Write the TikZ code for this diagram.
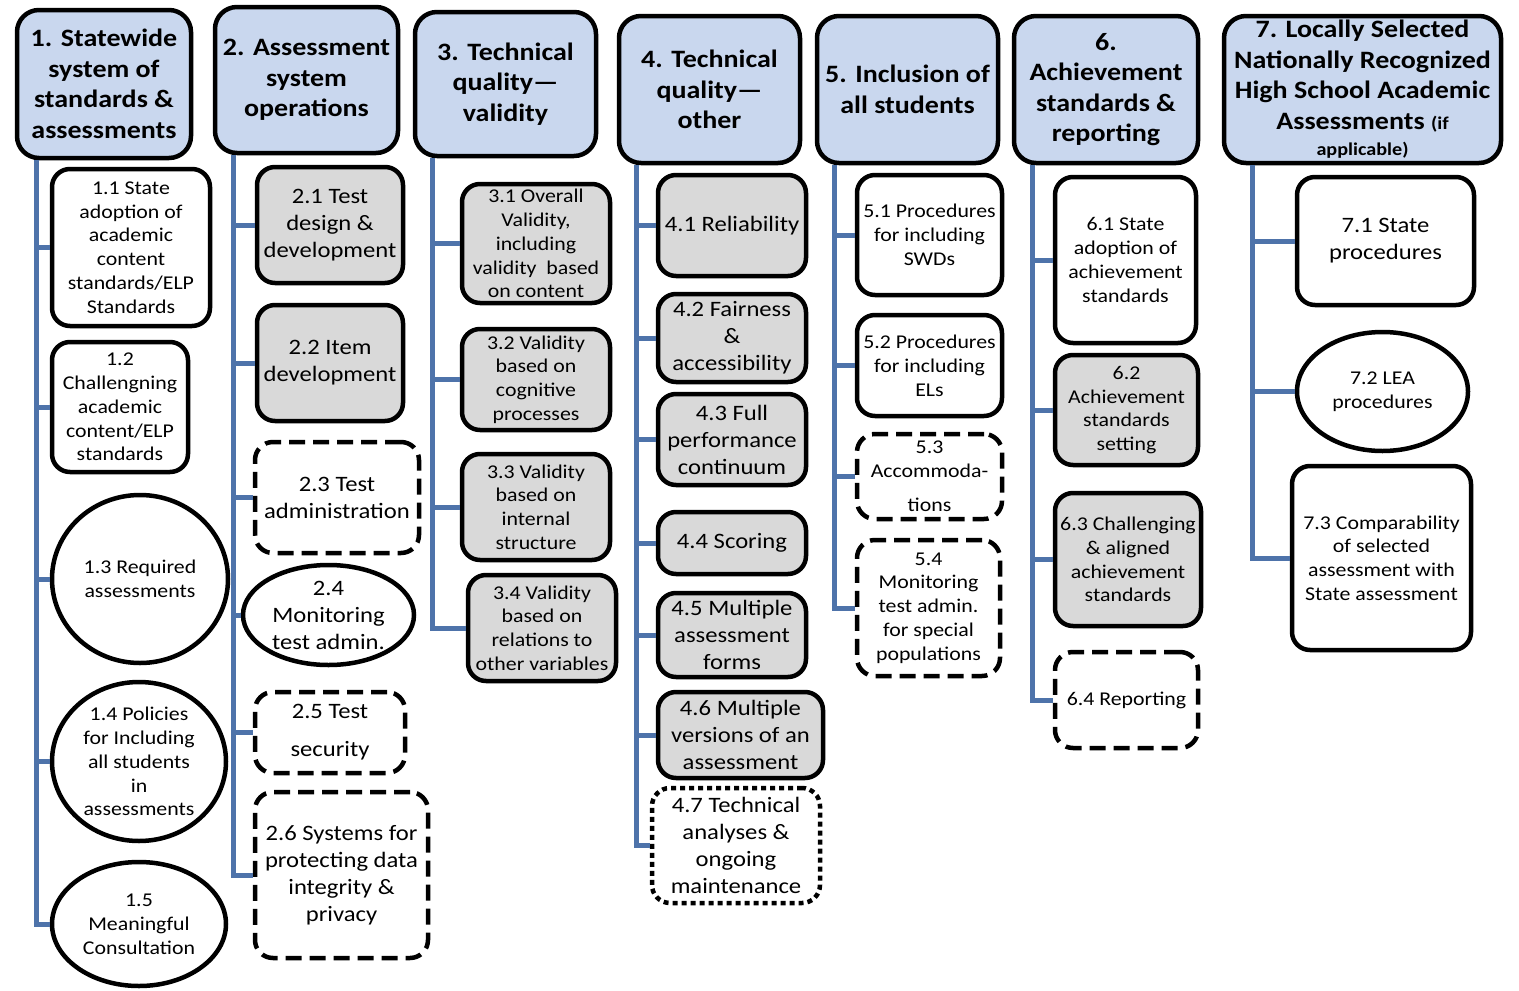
\documentclass[tikz,border=0pt]{standalone}
\usepackage{fontspec}
\setmainfont{Carlito}[FakeStretch=1.12]
\usepackage{tikz}
\usetikzlibrary{shapes.geometric,positioning}

\definecolor{headblue}{HTML}{C9D7EE}
\definecolor{boxgray}{HTML}{D9D9D9}
\definecolor{trunkblue}{HTML}{4E73AA}

\tikzset{
  head/.style={rectangle, draw, line width=4.5pt, fill=headblue, rounded corners=22pt, align=center, inner sep=0pt, font=\fontsize{25}{30.5}\selectfont\bfseries},
  leaf/.style={rectangle, draw, line width=4.5pt, fill=white, rounded corners=18pt, align=center, inner sep=0pt, font=\fontsize{19.5}{23.8}\selectfont},
  shaded/.style={leaf, fill=boxgray},
  dashbox/.style={leaf, dash pattern=on 16pt off 8pt},
  dotbox/.style={leaf, dash pattern=on 5pt off 4pt},
  oval/.style={ellipse, draw, line width=4.5pt, fill=white, align=center, inner sep=0pt, font=\fontsize{19.5}{23.8}\selectfont},
  big/.style={font=\fontsize{22}{27}\selectfont},
  trunk/.style={line width=5pt, trunkblue}
}

\begin{document}
\begin{tikzpicture}[x=1pt, y=-1pt]
    \useasboundingbox (0,0) rectangle (1519,991);

    % Column headers
    \node (h1) [head, minimum width=174, minimum height=148] at (104,84) {1. Statewide\\system of\\standards \&\\assessments};
    \node (h2) [head, minimum width=183, minimum height=146] at (306.5,80) {2. Assessment\\system\\operations};
    \node (h3) [head, minimum width=181, minimum height=144] at (505.5,84) {3. Technical\\quality---\\validity};
    \node (h4) [head, minimum width=181, minimum height=147] at (709.5,89.5) {4. Technical\\quality---\\other};
    \node (h5) [head, minimum width=181, minimum height=147] at (907.5,89.5) {5. Inclusion of\\all students};
    \node (h6) [head, minimum width=184, minimum height=147] at (1106,89.5) {6.\\Achievement\\standards \&\\reporting};
    \node (h7) [head, minimum width=277, minimum height=147] at (1362.5,89.5) {7. Locally Selected\\Nationally Recognized\\High School Academic\\Assessments {\fontsize{18}{20}\selectfont (if}\\[-4pt]{\fontsize{18}{20}\selectfont applicable)}};

    % Column 1
    \node (c11) [leaf, minimum width=158, minimum height=157] at (131,247.5) {1.1 State\\adoption of\\academic\\content\\standards/ELP\\Standards};
    \node (c12) [leaf, minimum width=136, minimum height=130] at (120,407) {1.2\\Challengning\\academic\\content/ELP\\standards};
    \node (c13) [oval, minimum width=176, minimum height=168] at (140,579) {1.3 Required\\assessments};
    \node (c14) [oval, minimum width=174, minimum height=159] at (139,761.5) {1.4 Policies\\for Including\\all students\\in\\assessments};
    \node (c15) [oval, minimum width=174, minimum height=124] at (139,924) {1.5\\Meaningful\\Consultation};

    % Column 2
    \node (c21) [shaded, big, minimum width=146, minimum height=116] at (330,225) {2.1 Test\\design \&\\development};
    \node (c22) [shaded, big, minimum width=146, minimum height=116] at (330,363) {2.2 Item\\development};
    \node (c23) [dashbox, big, minimum width=164, minimum height=111] at (337,497.5) {2.3 Test\\administration};
    \node (c24) [oval, big, minimum width=171, minimum height=100] at (328.5,615) {2.4\\Monitoring\\test admin.};
    \node (c25) [dashbox, big, minimum width=150, minimum height=81] at (330,732.5) {2.5 Test\\[11pt]security};
    \node (c26) [dashbox, big, minimum width=173, minimum height=166] at (341.5,875) {2.6 Systems for\\protecting data\\integrity \&\\privacy};

    % Column 3
    \node (c31) [shaded, minimum width=148, minimum height=119] at (536,243.5) {3.1 Overall\\Validity,\\including\\validity\ \ based\\on content};
    \node (c32) [shaded, minimum width=148, minimum height=101] at (536,379.5) {3.2 Validity\\based on\\cognitive\\processes};
    \node (c33) [shaded, minimum width=148, minimum height=106] at (536,507) {3.3 Validity\\based on\\internal\\structure};
    \node (c34) [shaded, minimum width=148, minimum height=106] at (542,628) {3.4 Validity\\based on\\relations to\\other variables};

    % Column 4
    \node (c41) [shaded, big, minimum width=148, minimum height=101] at (732,225.5) {4.1 Reliability};
    \node (c42) [shaded, big, minimum width=148, minimum height=88] at (732,338) {4.2 Fairness\\\&\\accessibility};
    \node (c43) [shaded, big, minimum width=148, minimum height=91] at (732,439.5) {4.3 Full\\performance\\continuum};
    \node (c44) [shaded, big, minimum width=148, minimum height=62] at (732,543) {4.4 Scoring};
    \node (c45) [shaded, big, minimum width=148, minimum height=84] at (732,635) {4.5 Multiple\\assessment\\forms};
    \node (c46) [shaded, big, minimum width=165, minimum height=86] at (740.5,735) {4.6 Multiple\\versions of an\\assessment};
    \node (c47) [dotbox, big, minimum width=168, minimum height=115] at (736,845.5) {4.7 Technical\\analyses \&\\ongoing\\maintenance};

    % Column 5
    \node (c51) [leaf, minimum width=145, minimum height=120] at (929.5,235) {5.1 Procedures\\for including\\SWDs};
    \node (c52) [leaf, minimum width=145, minimum height=101] at (929.5,365.5) {5.2 Procedures\\for including\\ELs};
    \node (c53) [dashbox, minimum width=145, minimum height=85] at (929.5,476.5) {5.3\\Accommoda-\\[10pt]tions};
    \node (c54) [dashbox, minimum width=143, minimum height=136] at (928.5,608) {5.4\\Monitoring\\test admin.\\for special\\populations};

    % Column 6
    \node (c61) [leaf, minimum width=141, minimum height=166] at (1125.5,260) {6.1 State\\adoption of\\achievement\\standards};
    \node (c62) [shaded, minimum width=143, minimum height=110] at (1126.5,410) {6.2\\Achievement\\standards\\setting};
    \node (c63) [shaded, minimum width=146, minimum height=133] at (1128,559.5) {6.3 Challenging\\\& aligned\\achievement\\standards};
    \node (c64) [dashbox, minimum width=143, minimum height=96] at (1126.5,700) {6.4 Reporting};

    % Column 7
    \node (c71) [leaf, big, minimum width=177, minimum height=128] at (1385.5,241) {7.1 State\\procedures};
    \node (c72) [oval, minimum width=171, minimum height=119] at (1382.5,391.5) {7.2 LEA\\procedures};
    \node (c73) [leaf, minimum width=179, minimum height=184] at (1381.5,558) {7.3 Comparability\\of selected\\assessment with\\State assessment};

    % Trunk tops
    \coordinate (t1) at ([xshift=22pt]h1.south west);
    \coordinate (t2) at ([xshift=21pt]h2.south west);
    \coordinate (t3) at ([xshift=20pt]h3.south west);
    \coordinate (t4) at ([xshift=20pt]h4.south west);
    \coordinate (t5) at ([xshift=20pt]h5.south west);
    \coordinate (t6) at ([xshift=21pt]h6.south west);
    \coordinate (t7) at ([xshift=31pt]h7.south west);

    % Trunks and branches
    \draw[trunk] (t1) |- (c15.west);
    \foreach \c in {c11,c12,c13,c14} \draw[trunk] (t1 |- \c.west) -- (\c.west);
    \draw[trunk] (t2) |- (c26.west);
    \foreach \c in {c21,c22,c23,c24,c25} \draw[trunk] (t2 |- \c.west) -- (\c.west);
    \draw[trunk] (t3) |- (c34.west);
    \foreach \c in {c31,c32,c33} \draw[trunk] (t3 |- \c.west) -- (\c.west);
    \draw[trunk] (t4) |- (c47.west);
    \foreach \c in {c41,c42,c43,c44,c45,c46} \draw[trunk] (t4 |- \c.west) -- (\c.west);
    \draw[trunk] (t5) |- (c54.west);
    \foreach \c in {c51,c52,c53} \draw[trunk] (t5 |- \c.west) -- (\c.west);
    \draw[trunk] (t6) |- (c64.west);
    \foreach \c in {c61,c62,c63} \draw[trunk] (t6 |- \c.west) -- (\c.west);
    \draw[trunk] (t7) |- (c73.west);
    \foreach \c in {c71,c72} \draw[trunk] (t7 |- \c.west) -- (\c.west);
\end{tikzpicture}
\end{document}
